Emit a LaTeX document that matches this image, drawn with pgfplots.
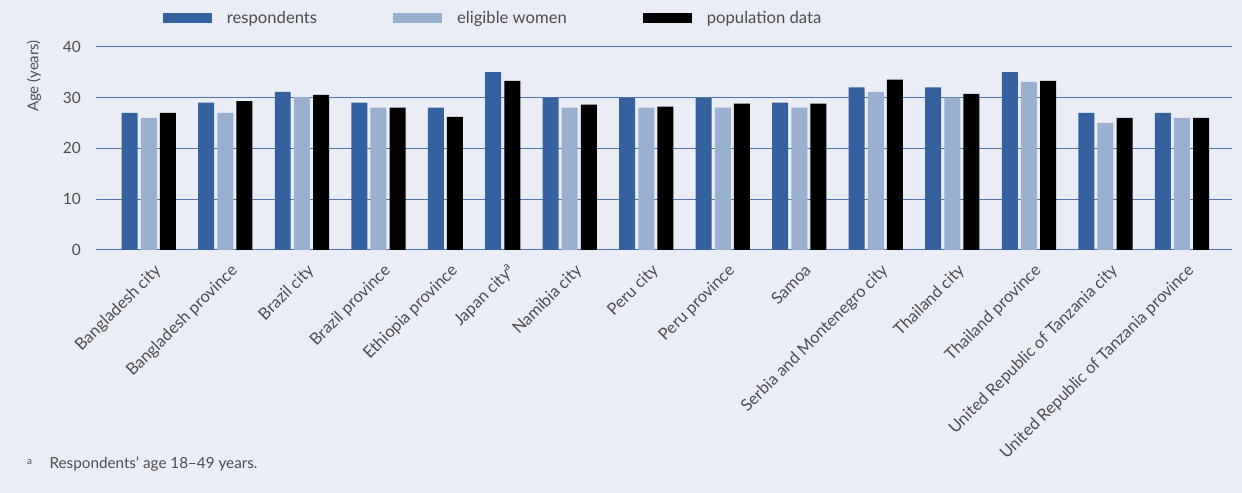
\documentclass[border=0pt]{standalone}
\usepackage{fontspec}
\setmainfont{Lato}
\usepackage{pgfplots}
\pgfplotsset{compat=1.18}
\usepackage{pgfplotstable}
\definecolor{bg}{HTML}{EAEDF5}
\definecolor{cblue}{HTML}{34629E}
\definecolor{clight}{HTML}{9AB0D0}
\definecolor{cgrid}{HTML}{4F75AE}
\definecolor{ctext}{HTML}{4D4D4D}

% x = bar slot (one empty slot between groups)
\pgfplotstableread{
x y
0 27
4 29
8 31.1
12 29
16 28
19 35
22 30
26 30
30 30
34 29
38 32
42 32
46 35
50 27
54 27
}\resp
\pgfplotstableread{
x y
1 26
5 27
9 30.1
13 28
23 28
27 28
31 28
35 28
39 31.1
43 30
47 33.1
51 25
55 26
}\elig
\pgfplotstableread{
x y
2 27
6 29.3
10 30.5
14 28
17 26.2
20 33.3
24 28.6
28 28.2
32 28.8
36 28.8
40 33.5
44 30.7
48 33.3
52 26
56 26
}\pop

\begin{document}
\begin{tikzpicture}
\fill[bg] (0,0) rectangle (1242bp,493bp);
\begin{axis}[
  scale only axis, width=1136bp, height=203.3bp,
  at={(95.7bp,243bp)}, anchor=south west,
  xmin=-1.777, xmax=57.6, ymin=0, ymax=40,
  ytick={0,10,20,30,40},
  ymajorgrids, grid style={cgrid, line width=1bp},
  axis line style={draw=none},
  major tick length=0pt,
  xtick={1,5,9,13,16.5,19.5,23,27,31,35,39,43,47,51,55},
  xticklabels={Bangladesh city,Bangladesh province,Brazil city,Brazil province,Ethiopia province,Japan city\textsuperscript{a},Namibia city,Peru city,Peru province,Samoa,Serbia and Montenegro city,Thailand city,Thailand province,United Republic of Tanzania city,United Republic of Tanzania province},
  x tick label style={rotate=45, anchor=north east, font=\fontsize{16.5}{18}\selectfont, text=ctext, inner sep=0pt, yshift=-12bp, xshift=-6bp},
  y tick label style={font=\fontsize{15.5}{17}\selectfont, text=ctext, inner sep=0pt, xshift=-14.7bp},
  /pgf/number format/assume math mode=true,
  legend columns=3,
  legend style={at={(0.059,1.1427)}, anchor=west, draw=none, fill=none, inner sep=0pt,
    font=\fontsize{16.7}{19}\selectfont, text=ctext,
    nodes={inner sep=0pt},
    /tikz/every odd column/.append style={column sep=15bp},
    /tikz/every even column/.append style={column sep=76bp}},
  legend cell align=left,
]
\addplot[ybar, bar shift=0pt, bar width=0.836, fill=cblue, draw=none,
  legend image code/.code={\fill[cblue] (0bp,-5bp) rectangle (49bp,5bp);}] table {\resp};
\addlegendentry{respondents}
\addplot[ybar, bar shift=0pt, bar width=0.836, fill=clight, draw=none,
  legend image code/.code={\fill[clight] (0bp,-5bp) rectangle (49bp,5bp);}] table {\elig};
\addlegendentry{eligible women}
\addplot[ybar, bar shift=0pt, bar width=0.836, fill=black, draw=none,
  legend image code/.code={\fill[black] (0bp,-5bp) rectangle (49bp,5bp);}] table {\pop};
\addlegendentry{population data}
\end{axis}
\node[rotate=90, font=\fontsize{15}{17}\selectfont, text=ctext] at (34bp,417bp) {Age (years)};
\node[anchor=base west, font=\fontsize{10}{11}\selectfont, text=ctext, inner sep=0pt] at (27bp,29bp) {a};
\node[anchor=base west, font=\fontsize{15.3}{17}\selectfont, text=ctext, inner sep=0pt] at (49.4bp,24.7bp) {Respondents’ age 18–49 years.};
\pgfresetboundingbox
\path (0,0) rectangle (1242bp,493bp);
\end{tikzpicture}
\end{document}
